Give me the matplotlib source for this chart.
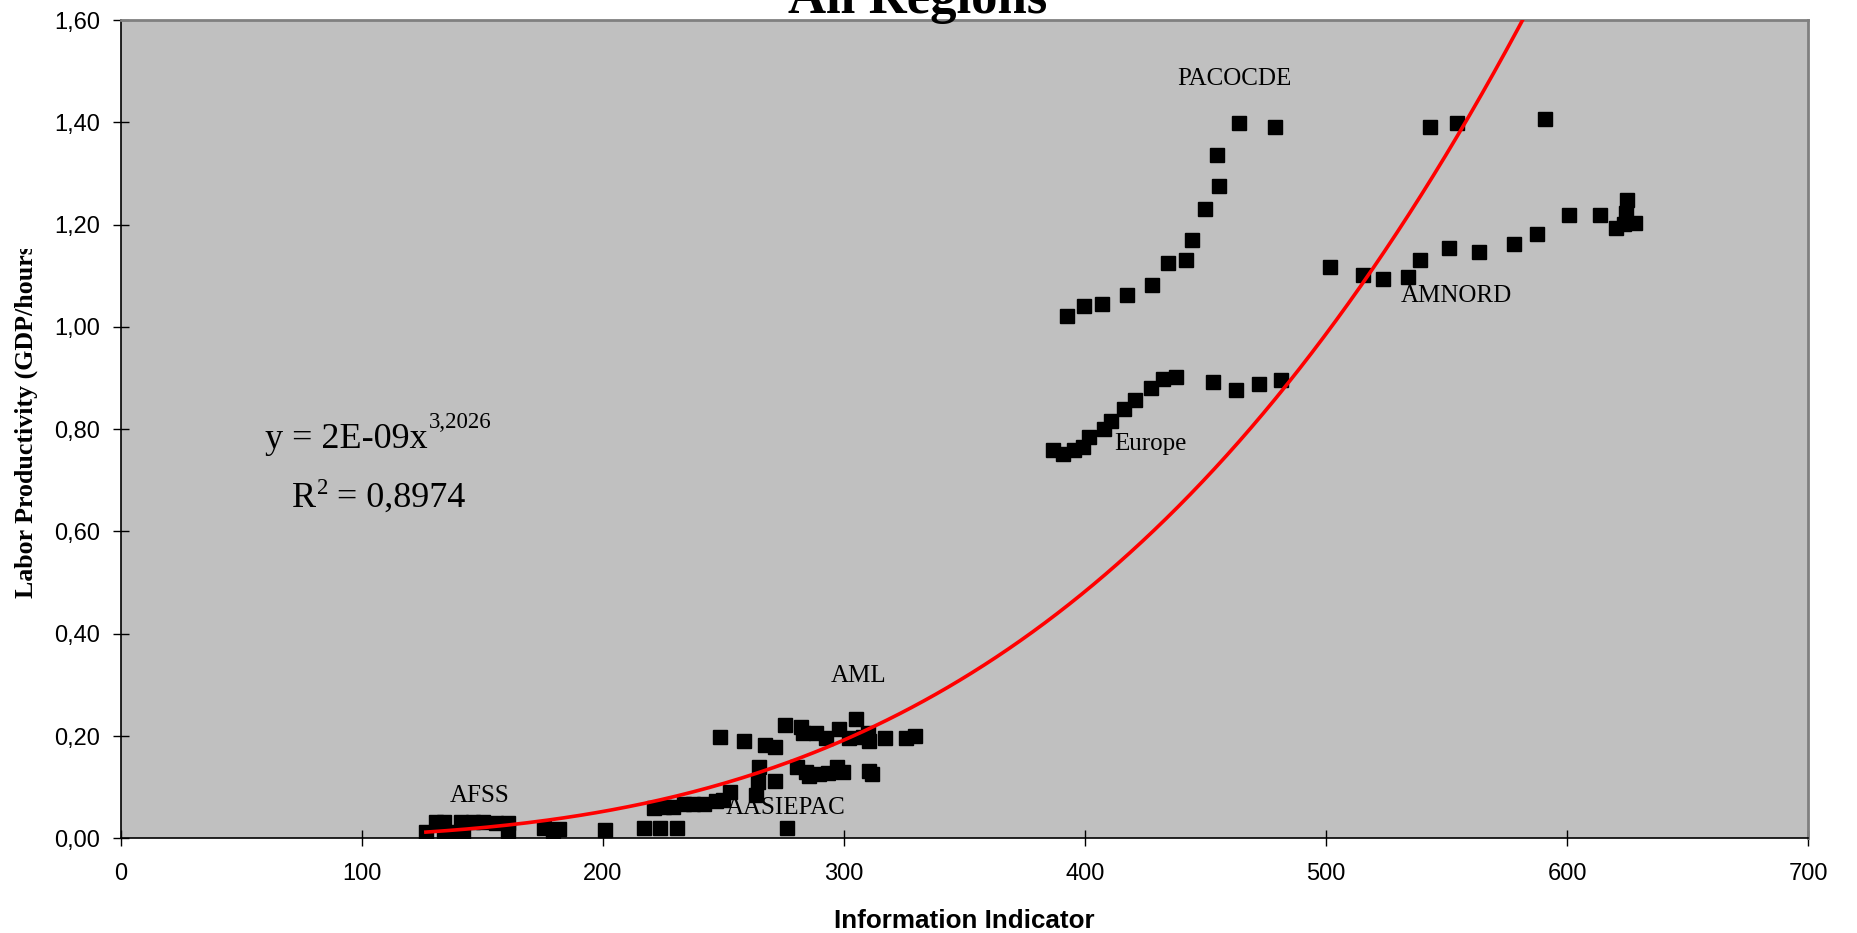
"""Productivité du travail vs indicateur d'information, toutes régions."""

import numpy as np
import matplotlib.pyplot as plt
from matplotlib.ticker import FuncFormatter, MultipleLocator
from matplotlib.transforms import Bbox, TransformedBbox

# --- Données ------------------------------------------------------------
afss_x = [126.6, 130.8, 134.2, 141.2, 146.0, 150.1, 155.7, 160.5, 134.2, 137.5, 141.8, 160.5]
afss_y = [0.013, 0.032, 0.032, 0.032, 0.032, 0.032, 0.030, 0.030, 0.010, 0.012, 0.010, 0.015]

low_x = [175.7, 181.9, 179.2, 201.0, 217.2, 223.7, 230.9, 276.3]
low_y = [0.020, 0.018, 0.015, 0.016, 0.020, 0.020, 0.020, 0.020]

aasiepac_x = [221.4, 225.5, 229.0, 233.8, 237.3, 242.1, 247.0, 250.0, 252.6, 263.7, 264.5, 264.7, 271.3]
aasiepac_y = [0.059, 0.062, 0.062, 0.067, 0.067, 0.067, 0.072, 0.075, 0.091, 0.085, 0.111, 0.140, 0.112]

aml_x = [248.6, 258.4, 267.3, 271.3, 275.4, 282.0, 282.9, 288.5, 292.6, 297.8, 302.3, 305.1,
         307.8, 309.8, 310.5, 317.2, 325.8, 329.5,
         280.4, 284.3, 285.7, 289.8, 293.3, 297.0, 299.8, 310.5, 311.5]
aml_y = [0.198, 0.191, 0.183, 0.179, 0.221, 0.217, 0.206, 0.205, 0.197, 0.214, 0.197, 0.233,
         0.199, 0.205, 0.191, 0.196, 0.196, 0.201,
         0.139, 0.130, 0.122, 0.126, 0.128, 0.139, 0.130, 0.132, 0.126]

europe_x = [386.6, 390.8, 395.6, 399.1, 401.5, 407.8, 411.0, 416.1, 420.8, 427.3, 432.2, 437.7,
            453.0, 462.7, 472.4, 481.4]
europe_y = [0.759, 0.751, 0.759, 0.766, 0.785, 0.800, 0.816, 0.839, 0.857, 0.880, 0.899, 0.903,
            0.892, 0.877, 0.888, 0.896]

pacocde_x = [392.6, 399.8, 407.1, 417.5, 428.0, 434.5, 441.8, 444.3, 449.9, 455.5, 454.9, 463.7,
             478.9, 543.1, 554.4, 591.0]
pacocde_y = [1.021, 1.040, 1.044, 1.063, 1.082, 1.124, 1.131, 1.169, 1.231, 1.276, 1.337, 1.398,
             1.390, 1.390, 1.398, 1.406]

amnord_x = [501.5, 515.4, 523.5, 534.2, 539.1, 551.2, 563.4, 577.9, 587.7, 600.9, 613.8, 620.3,
            623.6, 624.3, 625.0, 628.3]
amnord_y = [1.117, 1.101, 1.093, 1.097, 1.131, 1.154, 1.147, 1.162, 1.181, 1.219, 1.219, 1.193,
            1.202, 1.223, 1.249, 1.204]

# Courbe de tendance (puissance) affichée par Excel
trend_a = 2.24e-9
trend_b = 3.2026

region_names = ["PACOCDE", "AMNORD", "Europe", "AML", "AASIEPAC", "AFSS"]
region_label_x = [462, 554, 427, 306, 276, 149]
region_label_y = [1.485, 1.060, 0.771, 0.317, 0.060, 0.083]

SERIF = "Liberation Serif"
SANS = "Liberation Sans"
W, H = 1857, 933


def px(x, y):
    # pixels (depuis le coin haut-gauche) -> fraction de figure
    return x / W, 1 - y / H


fig = plt.figure(figsize=(W / 100, H / 100), dpi=100)
ax = fig.add_axes([0.065, 0.1015, 0.9087, 0.877])
ax.set_facecolor("#c0c0c0")

all_x = np.array(afss_x + low_x + aasiepac_x + aml_x + europe_x + pacocde_x + amnord_x)
all_y = np.array(afss_y + low_y + aasiepac_y + aml_y + europe_y + pacocde_y + amnord_y)
ax.plot(all_x, all_y, "s", color="black", markersize=9.8, zorder=3)

xs = np.linspace(all_x.min(), all_x.max(), 300)
ax.plot(xs, trend_a * xs ** trend_b, color="red", lw=2.6, zorder=4)

ax.set_xlim(0, 700)
ax.set_ylim(0, 1.6)
ax.xaxis.set_major_locator(MultipleLocator(100))
ax.yaxis.set_major_locator(MultipleLocator(0.2))
ax.yaxis.set_major_formatter(FuncFormatter(lambda v, _: f"{v:.2f}".replace(".", ",")))
ax.tick_params(direction="inout", length=12, width=1, labelsize=17, color="black")
ax.tick_params(axis="x", pad=12)
ax.tick_params(axis="y", pad=9)
for lab in ax.get_xticklabels() + ax.get_yticklabels():
    lab.set_fontfamily(SANS)

for side in ["top", "right"]:
    ax.spines[side].set_color("#808080")
    ax.spines[side].set_linewidth(2)
for side in ["left", "bottom"]:
    ax.spines[side].set_color("black")
    ax.spines[side].set_linewidth(1.2)

ax.set_xlabel("Information Indicator", fontfamily=SANS, fontweight="bold", fontsize=18.7, labelpad=17)

# Étiquette Y coupée comme dans l'original
ylab = fig.text(*px(26, 598), "Labor Productivity (GDP/hours)", rotation=90,
                ha="center", va="bottom", fontfamily=SERIF, fontweight="bold", fontsize=18.6)
ylab.set_clip_on(True)
ylab.set_clip_box(TransformedBbox(Bbox.from_extents(0, 0, 0.06, 1 - 249 / H), fig.transFigure))

fig.text(0.494, 0.9857, "All Regions", ha="center", va="baseline",
         fontfamily=SERIF, fontweight="bold", fontsize=38)

for name, lx, ly in zip(region_names, region_label_x, region_label_y):
    ax.text(lx, ly, name, ha="center", va="center", fontfamily=SERIF, fontsize=18, zorder=5)

# Équation de la tendance et R²
eq = dict(fontfamily=SERIF, va="baseline")
fig.text(*px(428, 448), "y = 2E-09x", ha="right", fontsize=26, **eq)
fig.text(*px(429, 428), "3,2026", ha="left", fontsize=16.5, **eq)
fig.text(*px(316, 507), "R", ha="right", fontsize=26, **eq)
fig.text(*px(317, 494), "2", ha="left", fontsize=16.5, **eq)
fig.text(*px(337, 507), "= 0,8974", ha="left", fontsize=26, **eq)

fig.savefig("out.png", dpi=100)
